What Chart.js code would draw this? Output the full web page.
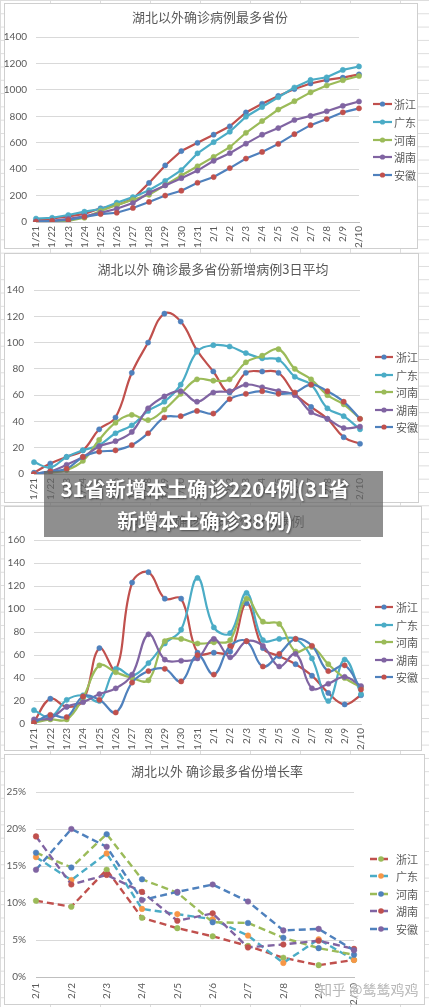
<!DOCTYPE html>
<html><head><meta charset="utf-8">
<script src="https://cdn.jsdelivr.net/npm/chart.js@4"></script>
<style>
html,body{margin:0;padding:0;}
body{width:429px;height:1007px;position:relative;overflow:hidden;background-color:#fff;
 background-image:linear-gradient(to bottom,#DCDCDC 1px,transparent 1px),linear-gradient(to right,#DCDCDC 1px,transparent 1px);
 background-size:100% 13.3px,50px 100%;}
.panel{position:absolute;background:#fff;border:1px solid #CFCFCF;box-sizing:border-box;}
canvas{position:absolute;left:0;}
#banner{position:absolute;left:44px;top:471px;width:339px;height:66px;background:rgba(100,100,100,0.72);}
#bannerText{position:absolute;left:25px;top:472px;width:360px;text-align:center;color:#fff;
 font-family:'Noto Sans CJK SC',sans-serif;font-weight:700;font-size:20.5px;line-height:32px;
 text-shadow:1px 1px 2px rgba(0,0,0,0.45);white-space:nowrap;}
#wm{position:absolute;left:318px;top:979px;font-family:'Noto Sans CJK SC',sans-serif;font-size:14px;color:rgba(165,165,165,0.8);
 text-shadow:0 0 2px #fff,0 0 2px #fff;white-space:nowrap;}
</style></head>
<body>
<div class="panel" style="left:4px;top:3px;width:414px;height:246px"></div>
<div class="panel" style="left:4px;top:253px;width:415px;height:250px"></div>
<div class="panel" style="left:4px;top:506px;width:418px;height:245px"></div>
<div class="panel" style="left:4px;top:754px;width:421px;height:251px"></div>
<canvas id="c1" width="429" height="250" style="top:0px"></canvas>
<canvas id="c2" width="429" height="253" style="top:250px"></canvas>
<canvas id="c3" width="429" height="250" style="top:503px"></canvas>
<canvas id="c4" width="429" height="254" style="top:753px"></canvas>
<div id="banner"></div>
<div id="bannerText">31省新增本土确诊2204例(31省<br>新增本土确诊38例)</div>
<div id="wm">知乎 @鸶鸶鸡鸡</div>
<script>
// ---------- data ----------
const days = ['1/21','1/22','1/23','1/24','1/25','1/26','1/27','1/28','1/29','1/30','1/31','2/1','2/2','2/3','2/4','2/5','2/6','2/7','2/8','2/9','2/10'];
const rateDays = ['2/1','2/2','2/3','2/4','2/5','2/6','2/7','2/8','2/9','2/10'];
const provinces = ['浙江','广东','河南','湖南','安徽'];

// cumulative confirmed
const cumZhejiang  = [10,27,43,62,104,128,173,296,428,537,599,661,724,829,895,954,1006,1048,1075,1092,1117];
const cumGuangdong = [26,32,53,78,98,146,188,241,311,393,520,604,683,797,870,944,1018,1075,1095,1151,1177];
const cumHenan     = [1,5,9,32,83,128,168,206,278,352,422,493,566,675,764,851,914,981,1033,1073,1105];
const cumHunan     = [4,9,24,43,69,100,143,221,277,332,389,463,521,593,661,711,772,803,838,879,912];
const cumAnhui     = [1,9,15,39,60,70,106,152,200,237,297,340,408,480,530,591,665,733,779,830,860];

// 3-day average of new cases
const avgZhejiang  = [1,8,13,18,34,43,77,100,122,116,94,78,62,77,78,77,61,51,42,28,23];
const avgGuangdong = [9,5,13,18,22,31,37,48,55,68,93,98,97,92,88,87,74,68,50,44,34];
const avgHenan     = [0,1,3,10,26,39,45,41,49,61,72,71,72,85,90,95,80,72,60,53,42];
const avgHunan     = [0,2,7,13,21,25,32,50,59,63,55,62,63,68,66,63,60,47,42,35,36];
const avgAnhui     = [0,2,4,13,17,18,22,31,43,44,48,46,57,61,63,61,62,68,63,55,42];

// daily new cases
const newZhejiang  = [2,22,15,20,66,47,123,132,109,109,62,62,63,105,66,59,52,42,27,17,25];
const newGuangdong = [12,6,21,25,20,48,42,53,70,82,127,84,79,114,73,74,74,57,20,56,26];
const newHenan     = [1,4,4,23,51,45,40,38,72,74,70,71,73,109,89,87,63,67,52,40,32];
const newHunan     = [4,5,15,19,26,31,43,78,56,55,57,74,58,72,68,50,61,31,35,41,33];
const newAnhui     = [1,8,6,24,21,10,36,46,48,37,60,43,68,72,50,61,74,68,46,51,30];

// growth rate (%)
const rateZhejiang  = [10.3,9.5,14.5,8.0,6.6,5.5,4.2,2.6,1.6,2.3];
const rateGuangdong = [16.2,13.1,16.7,9.2,8.5,7.8,5.6,1.9,5.1,2.3];
const rateHenan     = [16.8,14.8,19.3,13.2,11.4,7.4,7.3,5.3,3.9,3.0];
const rateHunan     = [19.0,12.5,13.8,11.5,7.6,8.6,4.0,4.4,4.9,3.8];
const rateAnhui     = [14.5,20.0,17.6,10.4,11.5,12.5,10.2,6.3,6.5,3.6];

// ---------- styling ----------
const RED='#C0504D', BLUE='#4F81BD', GREEN='#9BBB59', PURPLE='#8064A2', TEAL='#4BACC6', ORANGE='#F79646';
const lineCols = [RED, TEAL, GREEN, PURPLE, BLUE];
const markCols123 = [BLUE, TEAL, GREEN, PURPLE, RED];
const markCols4 = [GREEN, ORANGE, BLUE, RED, PURPLE];
const TXT = '#595959';
Chart.defaults.font.family = "Lato, 'Noto Sans CJK SC', sans-serif";
Chart.defaults.font.size = 10;
Chart.defaults.color = TXT;

const deco = {
  id: 'deco',
  afterDraw(chart, args, o) {
    const ctx = chart.ctx;
    ctx.save();
    ctx.fillStyle = TXT;
    ctx.font = "13px 'Noto Sans CJK SC', sans-serif";
    ctx.textAlign = 'center'; ctx.textBaseline = 'middle';
    ctx.fillText(o.title, o.tx, o.ty);
    chart.data.datasets.forEach((ds, i) => {
      const y = o.ly[i];
      ctx.strokeStyle = ds.borderColor; ctx.lineWidth = o.lw;
      ctx.setLineDash(o.dash || []);
      ctx.beginPath(); ctx.moveTo(o.lx1, y); ctx.lineTo(o.lx2, y); ctx.stroke();
      ctx.setLineDash([]);
      ctx.fillStyle = ds.pointBackgroundColor;
      ctx.beginPath(); ctx.arc((o.lx1 + o.lx2) / 2, y, o.pr, 0, Math.PI * 2); ctx.fill();
      ctx.fillStyle = TXT;
      ctx.font = "11px 'Noto Sans CJK SC', sans-serif";
      ctx.textAlign = 'left';
      ctx.fillText(ds.label, o.lt, y + 0.5);
    });
    ctx.restore();
  }
};

function makeChart(id, labels, series, cfg) {
  const datasets = series.map((d, i) => ({
    label: provinces[i], data: d,
    borderColor: lineCols[i], backgroundColor: cfg.marks[i],
    pointBackgroundColor: cfg.marks[i], pointBorderColor: cfg.marks[i],
    pointRadius: cfg.pr, pointBorderWidth: 0.5, borderWidth: cfg.lw,
    borderDash: cfg.dash || [], tension: cfg.tension || 0, order: 4 - i, fill: false
  }));
  return new Chart(document.getElementById(id), {
    type: 'line',
    data: { labels, datasets },
    options: {
      responsive: false, animation: false, devicePixelRatio: 1,
      layout: { padding: { left: 0, top: cfg.top, right: cfg.right, bottom: 0 } },
      plugins: {
        legend: { display: false }, tooltip: { enabled: false },
        deco: { title: cfg.title, tx: cfg.tx, ty: cfg.ty, ly: cfg.ly, lx1: cfg.lx1, lx2: cfg.lx2, lt: cfg.lt,
                dash: cfg.dash, lw: cfg.lw, pr: cfg.pr }
      },
      scales: {
        x: {
          type: 'category', offset: false,
          grid: { display: false, drawTicks: false, tickLength: 0 }, border: { display: true, color: '#BFBFBF' },
          ticks: { autoSkip: false, maxRotation: 90, minRotation: 90, padding: cfg.xpad, color: TXT, font: { size: 10 } },
          afterFit(s) { s.height = cfg.xh; }
        },
        y: {
          min: 0, max: cfg.max,
          grid: { color: '#D9D9D9', drawTicks: false, tickLength: 0 }, border: { display: false },
          ticks: { stepSize: cfg.step, padding: cfg.ypad, color: TXT, font: { size: 10 },
                   callback: cfg.pct ? (v => v + '%') : (v => v) },
          afterFit(s) { s.width = cfg.yw; }
        }
      }
    },
    plugins: [deco]
  });
}

makeChart('c1', days, [cumZhejiang, cumGuangdong, cumHenan, cumHunan, cumAnhui], {
  marks: markCols123, pr: 2.6, lw: 2.2, tension: 0,
  top: 37, right: 70, xh: 28, yw: 36, ypad: 9, xpad: 4, max: 1400, step: 200,
  title: '湖北以外确诊病例最多省份', tx: 210, ty: 17,
  ly: [104, 122, 140, 157, 175], lx1: 373, lx2: 392, lt: 394
});
makeChart('c2', days, [avgZhejiang, avgGuangdong, avgHenan, avgHunan, avgAnhui], {
  marks: markCols123, pr: 2.6, lw: 2.2, tension: 0.4,
  top: 40, right: 69, xh: 29, yw: 34, ypad: 10, xpad: 4, max: 140, step: 20,
  title: '湖北以外 确诊最多省份新增病例3日平均', tx: 213, ty: 19,
  ly: [107, 125, 142, 160, 177], lx1: 375, lx2: 393, lt: 396
});
makeChart('c3', days, [newZhejiang, newGuangdong, newHenan, newHunan, newAnhui], {
  marks: markCols123, pr: 2.6, lw: 2.2, tension: 0.4,
  top: 37, right: 68, xh: 29, yw: 34, ypad: 9, xpad: 4, max: 160, step: 20,
  title: '湖北以外 确诊最多省份新增病例', tx: 212, ty: 18,
  ly: [104, 122, 139, 157, 174], lx1: 375, lx2: 393, lt: 396
});
makeChart('c4', rateDays, [rateZhejiang, rateGuangdong, rateHenan, rateHunan, rateAnhui], {
  marks: markCols4, pr: 2.8, lw: 2.4, tension: 0, dash: [7, 4], pct: true,
  top: 39, right: 75, xh: 30, yw: 36, ypad: 10, xpad: 6, max: 25, step: 5,
  title: '湖北以外 确诊最多省份增长率', tx: 217, ty: 18,
  ly: [106, 123, 141, 158, 176], lx1: 370, lx2: 392, lt: 396
});
</script>
</body></html>
